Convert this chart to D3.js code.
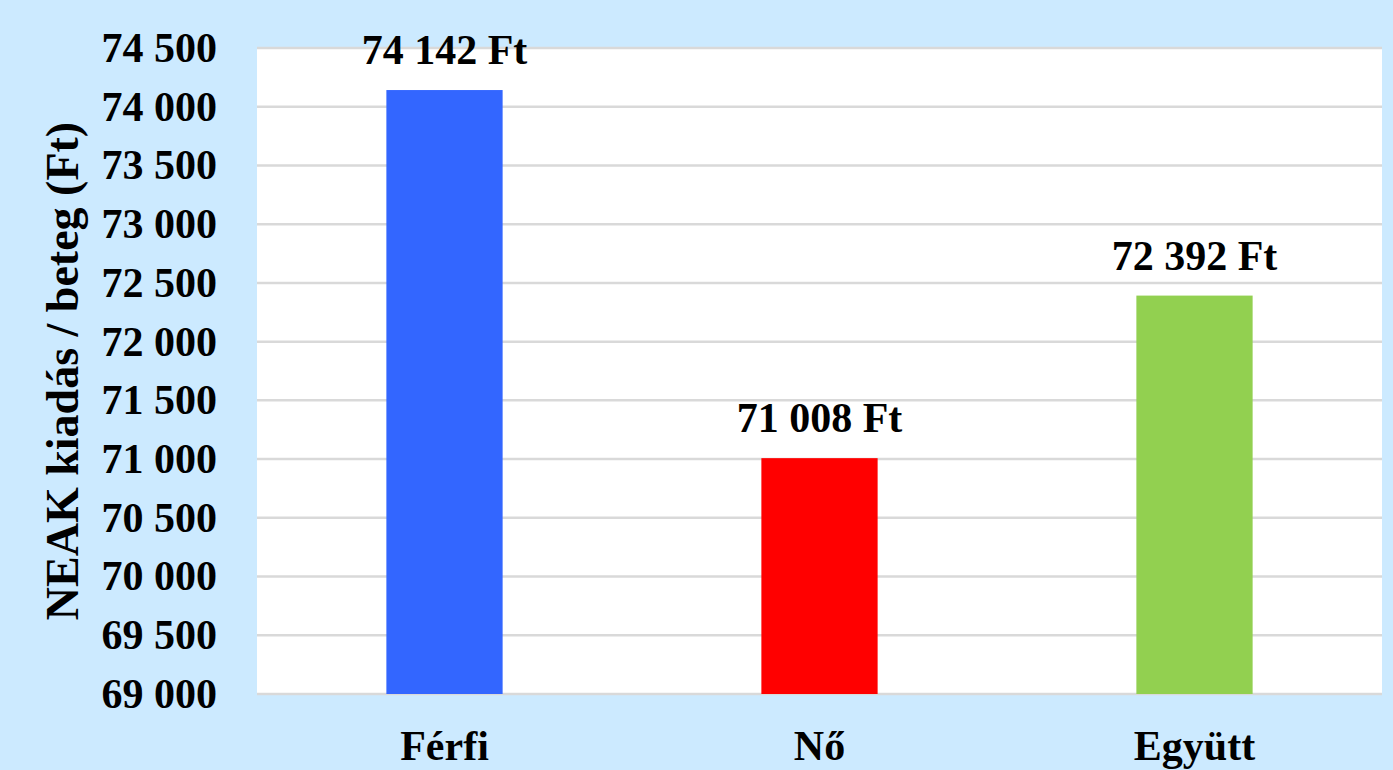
<!DOCTYPE html>
<html>
<head>
<meta charset="utf-8">
<script src="https://cdn.jsdelivr.net/npm/d3@7"></script>
<style>
  html, body { margin: 0; padding: 0; background: #cceaff; }
  svg { display: block; }
</style>
</head>
<body>
<script>
// chart data
const categories = ['Férfi', 'Nő', 'Együtt'];
const values = [74142, 71008, 72392];
const barColors = ['#3366ff', '#ff0000', '#92d050'];
const yTicks = [69000, 69500, 70000, 70500, 71000, 71500, 72000, 72500, 73000, 73500, 74000, 74500];

const W = 1393, H = 770;
const margin = {top: 48, right: 11, bottom: 76, left: 257};
const width = W - margin.left - margin.right,
    height = H - margin.top - margin.bottom;

const fmt = v => d3.format(',')(v).replace(/,/g, ' ');

const svg = d3.select('body').append('svg')
    .attr('width', W)
    .attr('height', H)
    .style('font-family', '"Liberation Serif", "Times New Roman", serif')
    .style('font-weight', 'bold');

svg.append('rect').attr('width', W).attr('height', H).attr('fill', '#cceaff');

const g = svg.append('g')
    .attr('transform', 'translate(' + margin.left + ',' + margin.top + ')');

// plot area
g.append('rect').attr('width', width).attr('height', height).attr('fill', '#fff');

const x = d3.scaleBand()
    .domain(categories)
    .range([0, width])
    .paddingInner(0.69)
    .paddingOuter(0.345);

const y = d3.scaleLinear()
    .domain([69000, 74500])
    .range([height, 0]);

// gridlines
g.append('g')
    .selectAll('line')
    .data(yTicks)
    .enter().append('line')
    .attr('x1', 0).attr('x2', width)
    .attr('y1', d => y(d)).attr('y2', d => y(d))
    .attr('stroke', '#d9d9d9')
    .attr('stroke-width', 2.5);

// y axis labels
const yAxis = g.append('g')
    .call(d3.axisLeft(y).tickValues(yTicks).tickFormat(fmt).tickSize(0).tickPadding(40));
yAxis.select('.domain').remove();
yAxis.selectAll('text')
    .attr('font-size', 42)
    .attr('font-family', '"Liberation Serif", serif')
    .attr('font-weight', 'bold')
    .attr('fill', '#000');

// bars
g.selectAll('.bar')
    .data(values)
    .enter().append('rect')
    .attr('class', 'bar')
    .attr('x', (d, i) => x(categories[i]))
    .attr('y', d => y(d))
    .attr('width', x.bandwidth())
    .attr('height', d => height - y(d))
    .attr('fill', (d, i) => barColors[i]);

// value labels
g.selectAll('.val')
    .data(values)
    .enter().append('text')
    .attr('class', 'val')
    .attr('x', (d, i) => x(categories[i]) + x.bandwidth() / 2)
    .attr('y', d => y(d) - 26)
    .attr('text-anchor', 'middle')
    .attr('font-size', 42)
    .attr('fill', '#000')
    .text(d => fmt(d) + ' Ft');

// x axis labels
const xAxis = g.append('g')
    .attr('transform', 'translate(0,' + height + ')')
    .call(d3.axisBottom(x).tickSize(0).tickPadding(36));
xAxis.select('.domain').remove();
xAxis.selectAll('text')
    .attr('font-size', 42)
    .attr('font-family', '"Liberation Serif", serif')
    .attr('font-weight', 'bold')
    .attr('fill', '#000');

// y axis title
svg.append('text')
    .attr('transform', 'translate(78,' + (margin.top + height / 2 + 0) + ') rotate(-90)')
    .attr('text-anchor', 'middle')
    .attr('font-size', 46)
    .attr('fill', '#000')
    .text('NEAK kiadás / beteg (Ft)');
</script>
</body>
</html>
